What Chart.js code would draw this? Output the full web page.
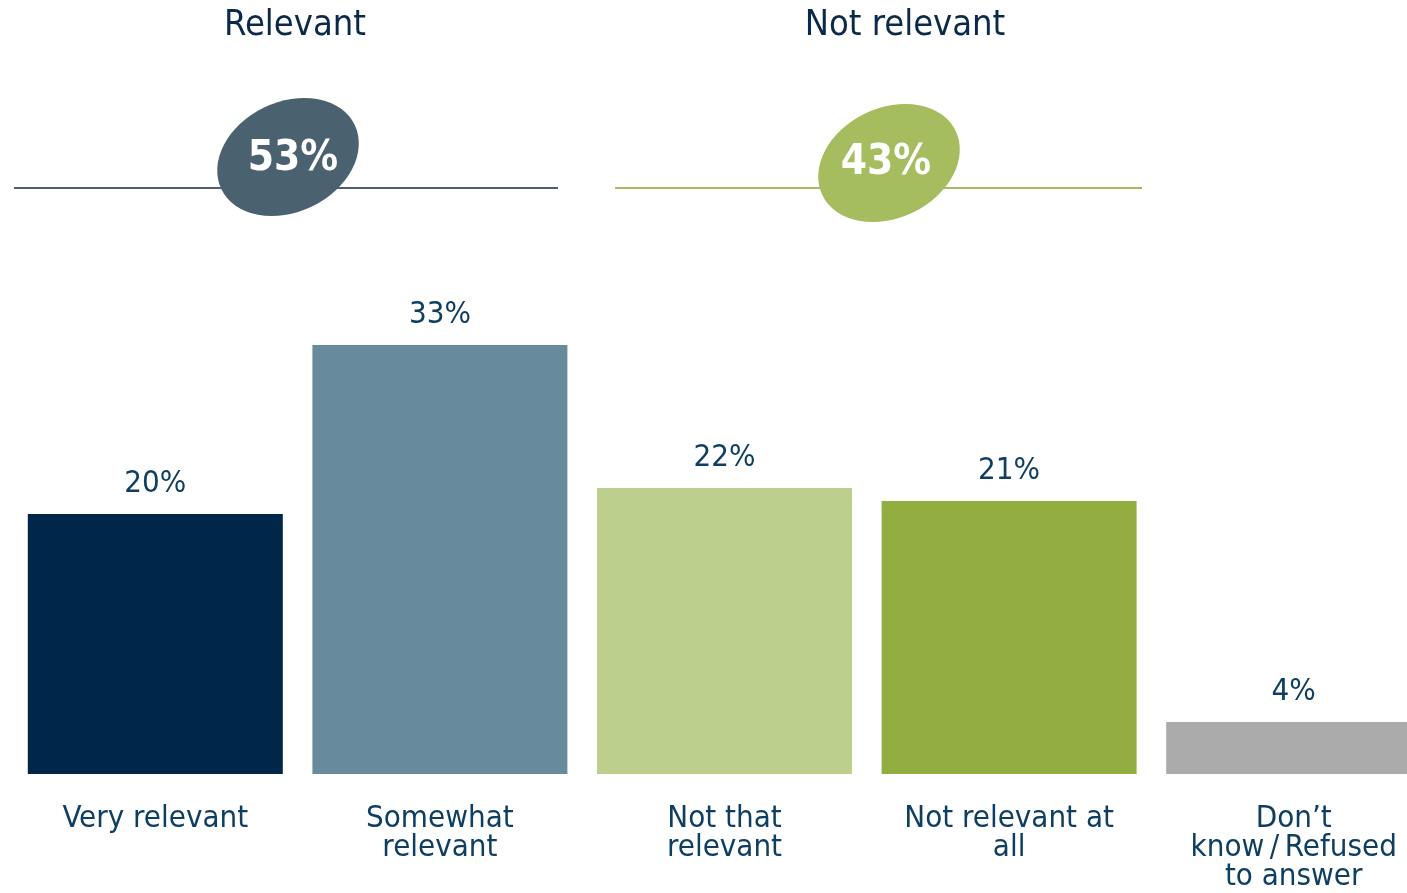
<!DOCTYPE html>
<html lang="en">
<head>
  <meta charset="UTF-8">
  <title>Relevance</title>
  <script src="https://cdn.jsdelivr.net/npm/chart.js"></script>
  <style>
    html, body { margin: 0; padding: 0; background: #fff; overflow: hidden; }
    #wrap { width: 1436px; height: 893px; }
  </style>
</head>
<body>
  <div id="wrap"><canvas id="grafico" width="1436" height="893"></canvas></div>

  <script>
    const categorias = [
      "Very relevant",
      ["Somewhat", "relevant"],
      ["Not that", "relevant"],
      ["Not relevant at", "all"],
      ["Don\u2019t", "know\u2009/\u2009Refused", "to answer"]
    ];
    const valores = [20, 33, 22, 21, 4];
    const cores = ["#00274a", "#678a9d", "#bccf8d", "#92ae40", "#ababab"];

    const grupos = ["Relevant", "Not relevant"];
    const totais = ["53%", "43%"];
    const coresGrupo = ["#4a6270", "#a5bd5e"];

    const fonte = "'DejaVu Sans Condensed', 'DejaVu Sans', sans-serif";
    const azul = "#0e3f62";

    // rotulos de valor em cima das barras
    const rotulos = {
      id: "rotulos",
      afterDatasetsDraw(chart) {
        const ctx = chart.ctx;
        const meta = chart.getDatasetMeta(0);
        ctx.save();
        ctx.font = "31px " + fonte;
        ctx.fillStyle = azul;
        ctx.textAlign = "center";
        ctx.textBaseline = "bottom";
        meta.data.forEach((bar, i) => {
          ctx.fillText(valores[i] + "%", bar.x, bar.y - 15);
        });
        ctx.restore();
      }
    };

    // cabecalho com as linhas e elipses
    const cabecalho = {
      id: "cabecalho",
      afterDraw(chart) {
        const ctx = chart.ctx;
        const linhas = [[14, 558], [615, 1142]];
        const elipses = [[288, 157], [889, 163]];
        const textos = [[293, 159], [886, 163]];
        const centros = [295, 905];
        ctx.save();
        grupos.forEach((g, i) => {
          ctx.fillStyle = "#0b2a4a";
          ctx.font = "36px " + fonte;
          ctx.textAlign = "center";
          ctx.textBaseline = "middle";
          ctx.fillText(g, centros[i], 26);

          ctx.strokeStyle = coresGrupo[i];
          ctx.lineWidth = 2;
          ctx.beginPath();
          ctx.moveTo(linhas[i][0], 188);
          ctx.lineTo(linhas[i][1], 188);
          ctx.stroke();

          ctx.fillStyle = coresGrupo[i];
          ctx.beginPath();
          ctx.ellipse(elipses[i][0], elipses[i][1], 74, 55, -0.45, 0, Math.PI * 2);
          ctx.fill();

          ctx.fillStyle = "#ffffff";
          ctx.font = "bold 42px " + fonte;
          ctx.fillText(totais[i], textos[i][0], textos[i][1]);
        });
        ctx.restore();
      }
    };

    new Chart(document.getElementById("grafico"), {
      type: "bar",
      data: {
        labels: categorias,
        datasets: [{
          data: valores,
          backgroundColor: cores,
          categoryPercentage: 1,
          barPercentage: 0.896
        }]
      },
      options: {
        responsive: false,
        animation: false,
        layout: { padding: { left: 13, right: 0, top: 254, bottom: 0 } },
        plugins: { legend: { display: false }, tooltip: { enabled: false } },
        scales: {
          x: {
            grid: { display: false },
            border: { display: false },
            afterFit(scale) { scale.height = 119; },
            ticks: {
              color: azul,
              font: { family: fonte, size: 31, lineHeight: 0.94 },
              padding: 22,
              maxRotation: 0,
              autoSkip: false
            }
          },
          y: {
            display: false,
            min: 0,
            max: 40
          }
        }
      },
      plugins: [rotulos, cabecalho]
    });
  </script>
</body>
</html>
